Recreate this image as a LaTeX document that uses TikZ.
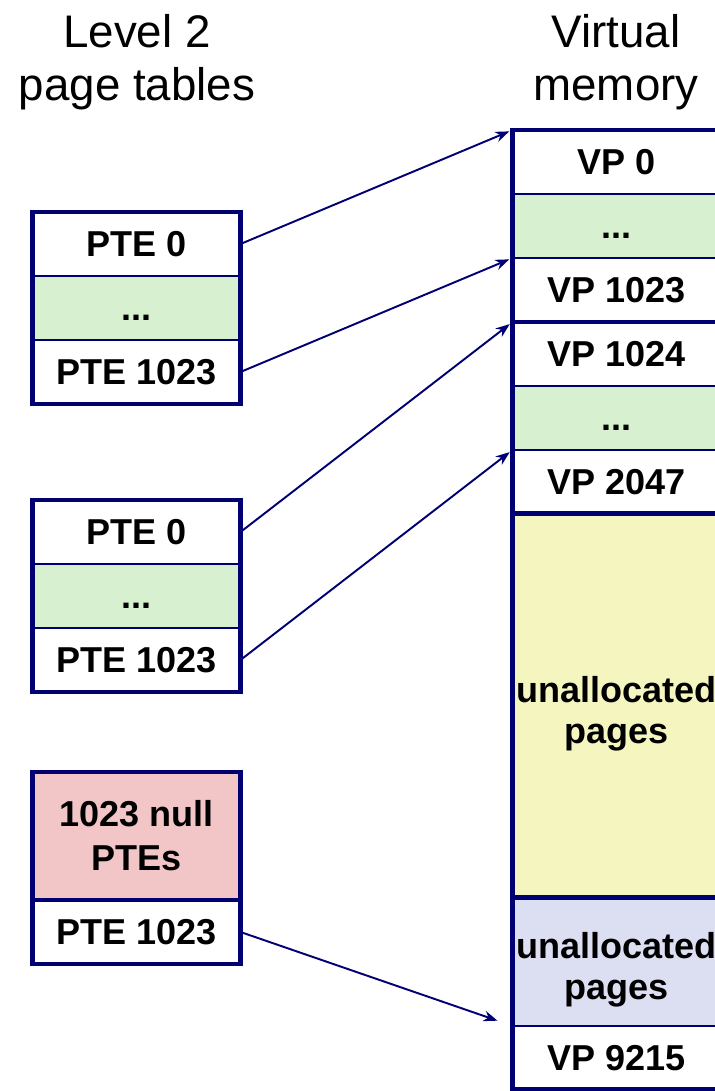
\documentclass[tikz,border=0pt]{standalone}
\usepackage{fontspec}
\setmainfont{Liberation Sans}
\usetikzlibrary{arrows.meta,positioning}
\definecolor{framecolor}{RGB}{0,0,115}
\definecolor{dotsgreen}{RGB}{214,240,208}
\definecolor{nullpink}{RGB}{242,198,198}
\definecolor{freeyellow}{RGB}{245,245,192}
\definecolor{freeblue}{RGB}{220,222,242}

\begin{document}
\begin{tikzpicture}[
			x=0.02cm,
			y=-0.02cm,
			titlelabel/.style={
				align=center,
				inner sep=0pt,
				font=\fontsize{26}{30}\selectfont
			},
			cell/.style={
				draw=framecolor,
				line width=1.4pt,
				fill=white,
				minimum width=4.16cm,
				minimum height=1.28cm,
				inner sep=0pt,
				outer sep=0pt,
				align=center,
				font=\bfseries\fontsize{20.5}{25}\selectfont
			},
			dotcell/.style={
				cell,
				fill=dotsgreen,
				execute at begin node=\vphantom{P}
			},
			freecell/.style={
				cell,
				font=\bfseries\fontsize{20.5}{23}\selectfont
			},
			tableframe/.style={
				draw=framecolor,
				line width=2.8pt
			},
			pointer/.style={
				-{Stealth[length=8pt,width=6pt]},
				draw=framecolor,
				line width=1.1pt,
				shorten >=2pt
			}
			]
			
			\useasboundingbox (0,0) rectangle (715,1091);
			
			\node[titlelabel] (tabletitle) at (137,62) {Level 2\\page tables};
			\node[titlelabel] (memtitle) at (616,62) {Virtual\\memory};
			
			\node[cell] (tabA0) at (136.5,244) {PTE 0};
			\node[dotcell,below=0pt of tabA0] (tabAdots) {...};
			\node[cell,below=0pt of tabAdots] (tabAlast) {PTE 1023};
			
			\node[cell] (tabB0) at (136.5,532) {PTE 0};
			\node[dotcell,below=0pt of tabB0] (tabBdots) {...};
			\node[cell,below=0pt of tabBdots] (tabBlast) {PTE 1023};
			
			\node[cell,fill=nullpink,minimum height=2.56cm] (tabCnull) at (136.5,836) {
				1023 null\\PTEs
			};
			\node[cell,below=0pt of tabCnull] (tabClast) {PTE 1023};
			
			\node[cell] (vp0) at (616.5,162) {VP 0};
			\node[dotcell,below=0pt of vp0] (vpdotsA) {...};
			\node[cell,below=0pt of vpdotsA] (vp1023) {VP 1023};
			\node[cell,below=0pt of vp1023] (vp1024) {VP 1024};
			\node[dotcell,below=0pt of vp1024] (vpdotsB) {...};
			\node[cell,below=0pt of vpdotsB] (vp2047) {VP 2047};
			\node[freecell,fill=freeyellow,minimum height=7.68cm,below=0pt of vp2047] (unallocA) {
				\rule{0pt}{24pt}unallocated\\pages
			};
			\node[freecell,fill=freeblue,minimum height=2.56cm,below=0pt of unallocA] (unallocB) {
				\rule{0pt}{24pt}unallocated\\pages
			};
			\node[cell,below=0pt of unallocB] (vp9215) {VP 9215};
			
			\draw[tableframe] (tabA0.north west) rectangle (tabAlast.south east);
			\draw[tableframe] (tabB0.north west) rectangle (tabBlast.south east);
			\draw[tableframe] (tabCnull.north west) rectangle (tabCnull.south east);
			\draw[tableframe] (tabClast.north west) rectangle (tabClast.south east);
			\draw[tableframe] (vp0.north west) rectangle (vp1023.south east);
			\draw[tableframe] (vp1024.north west) rectangle (vp2047.south east);
			\draw[tableframe] (unallocA.north west) rectangle (unallocA.south east);
			\draw[tableframe] (unallocB.north west) rectangle (vp9215.south east);
			
			\draw[pointer] (tabA0.east) -- (vp0.north west);
			\draw[pointer] (tabAlast.east) -- (vp1023.north west);
			\draw[pointer] (tabB0.east) -- (vp1024.north west);
			\draw[pointer] (tabBlast.east) -- (vp2047.north west);
			\draw[pointer,shorten >=9pt] (tabClast.east) -- (vp9215.north west);
			
		\end{tikzpicture}
\end{document}
